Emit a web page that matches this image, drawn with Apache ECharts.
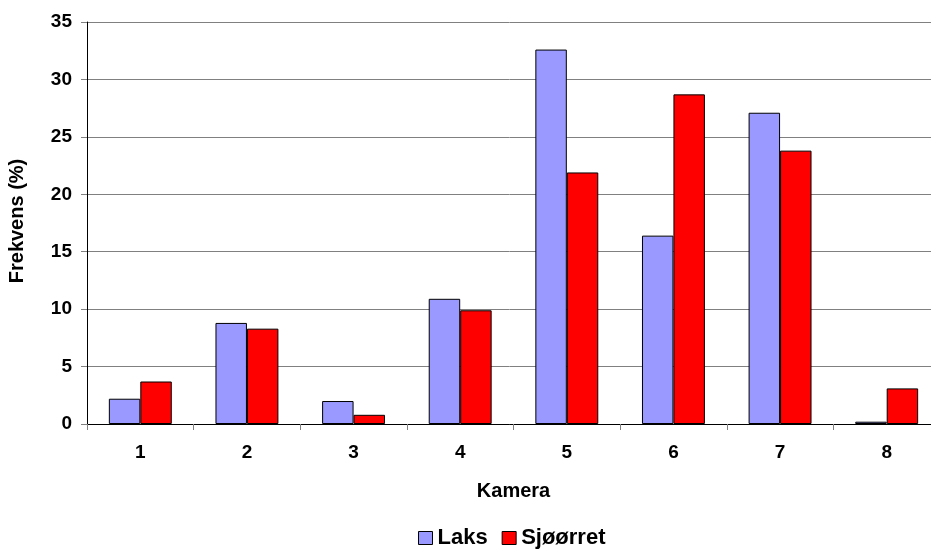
<!DOCTYPE html>
<html>
<head>
<meta charset="utf-8">
<script src="https://cdn.jsdelivr.net/npm/echarts@6/dist/echarts.min.js"></script>
<style>
html, body { margin: 0; padding: 0; background: #fff; }
#chart { width: 931px; height: 549px; }
</style>
</head>
<body>
<div id="chart"></div>
<script>
// data
var kamera = ['1', '2', '3', '4', '5', '6', '7', '8'];
var laks = [2.2, 8.8, 2.0, 10.9, 32.6, 16.4, 27.1, 0.2];
var sjoorret = [3.7, 8.3, 0.8, 9.9, 21.9, 28.7, 23.8, 3.1];

var font = 'Liberation Sans, Arial, sans-serif';
var chart = echarts.init(document.getElementById('chart'));
var option = {
	animation: false,
	textStyle: { fontFamily: font },
	// plot runs past the right edge of the picture, as in the original
	grid: { left: 87, top: 22, width: 853, height: 402, containLabel: false, outerBoundsMode: 'none' },
	legend: {
		top: 522,
		left: 413,
		itemWidth: 14,
		itemHeight: 13,
		itemGap: 14,
		icon: 'rect',
		itemStyle: { borderColor: '#000', borderWidth: 1 },
		textStyle: { fontSize: 22, fontWeight: 'bold', color: '#000', fontFamily: font },
		data: ['Laks', 'Sjøørret']
	},
	xAxis: {
		type: 'category',
		data: kamera,
		name: 'Kamera',
		nameLocation: 'middle',
		nameGap: 57,
		nameTextStyle: { fontSize: 20, fontWeight: 'bold', color: '#000' },
		axisLine: { lineStyle: { color: '#000', width: 1 } },
		axisTick: { show: true, alignWithLabel: false, length: 6, lineStyle: { color: '#808080' } },
		axisLabel: { fontSize: 19, fontWeight: 'bold', color: '#000', margin: 19 }
	},
	yAxis: {
		type: 'value',
		min: 0,
		max: 35,
		interval: 5,
		name: 'Frekvens (%)',
		nameLocation: 'middle',
		nameGap: 60,
		nameRotate: 90,
		nameTextStyle: { fontSize: 20, fontWeight: 'bold', color: '#000', padding: [0, 0, 0, 4] },
		axisLine: { show: true, lineStyle: { color: '#000', width: 1 } },
		axisTick: { show: true, length: 6, lineStyle: { color: '#808080' } },
		axisLabel: { fontSize: 19, fontWeight: 'bold', color: '#000', margin: 15 },
		splitLine: { show: true, lineStyle: { color: '#808080', width: 1 } }
	},
	series: [
		{
			name: 'Laks',
			type: 'bar',
			data: laks,
			barGap: '0%',
			barCategoryGap: '41%',
			itemStyle: { color: '#9999FF', borderColor: '#000', borderWidth: 1 }
		},
		{
			name: 'Sjøørret',
			type: 'bar',
			data: sjoorret,
			itemStyle: { color: '#FF0000', borderColor: '#000', borderWidth: 1 }
		}
	]
};
chart.setOption(option);
</script>
</body>
</html>
